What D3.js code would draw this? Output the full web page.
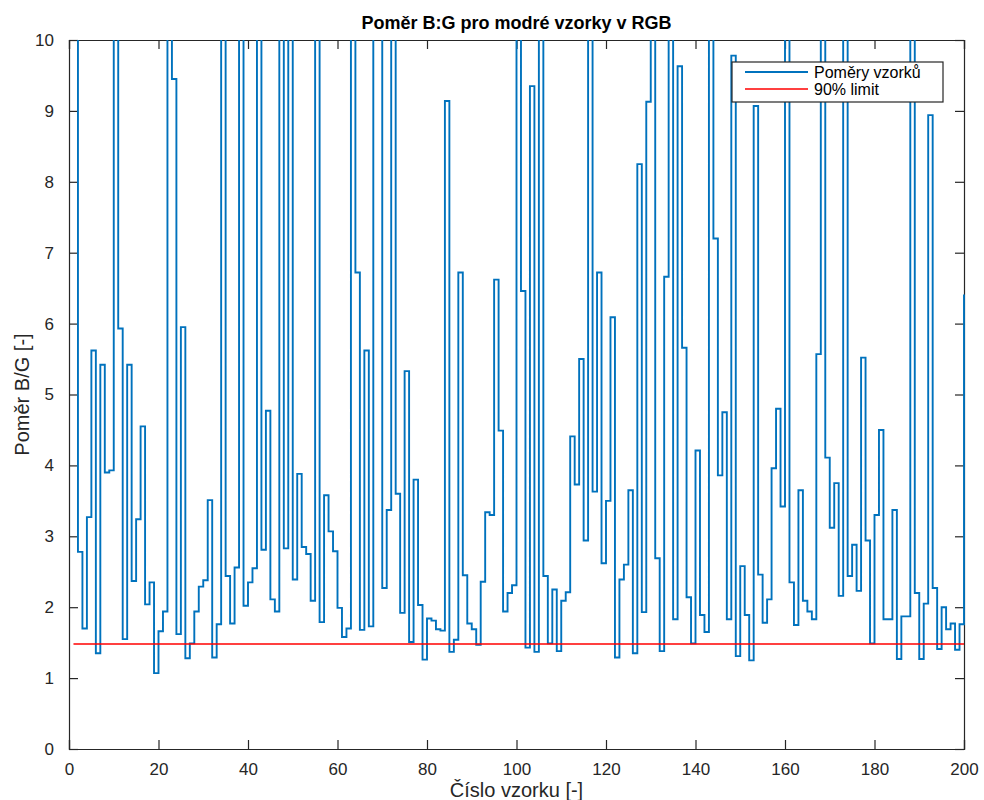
<!DOCTYPE html>
<html>
<head>
<meta charset="utf-8">
<script src="https://cdn.jsdelivr.net/npm/d3@7"></script>
<style>
  html, body { margin: 0; padding: 0; background: #fff; }
  svg { display: block; }
  text { font-family: "Liberation Sans", Arial, Helvetica, sans-serif; }
</style>
</head>
<body>
<svg id="chart" width="984" height="800"></svg>
<script>
// B:G ratio for each sample (values above 10 run off the top of the axes)
const sampleRatios = [
  12, 2.78, 1.70, 3.27, 5.62, 1.35, 5.42, 3.90, 3.93, 12,
  5.93, 1.55, 5.42, 2.37, 3.24, 4.55, 2.04, 2.35, 1.07, 1.66,
  1.94, 12, 9.45, 1.62, 5.95, 1.28, 1.49, 1.94, 2.29, 2.38,
  3.51, 1.29, 1.76, 12, 2.44, 1.77, 2.56, 12, 2.02, 2.35,
  2.55, 12, 2.81, 4.77, 2.11, 1.94, 12, 2.83, 12, 2.39,
  3.88, 2.85, 2.75, 2.09, 12, 1.79, 3.58, 3.07, 2.79, 1.99,
  1.58, 1.70, 12, 6.72, 1.68, 5.62, 1.73, 12, 12, 2.27,
  3.37, 12, 3.60, 1.92, 5.33, 1.51, 3.80, 2.03, 1.26, 1.84,
  1.81, 1.69, 1.67, 9.14, 1.37, 1.54, 6.72, 2.45, 1.77, 1.69,
  1.47, 2.36, 3.34, 3.30, 6.62, 4.49, 1.94, 2.20, 2.31, 12,
  6.46, 1.43, 9.35, 1.37, 12, 2.44, 1.49, 2.25, 1.38, 2.09,
  2.21, 4.41, 3.73, 5.50, 2.94, 12, 3.63, 6.72, 2.62, 3.50,
  6.09, 1.29, 2.39, 2.60, 3.65, 1.35, 8.25, 1.93, 9.13, 12,
  2.69, 1.38, 6.66, 12, 1.83, 9.63, 5.66, 2.14, 1.49, 4.21,
  1.89, 1.65, 12, 7.20, 3.86, 4.75, 1.83, 9.78, 1.31, 2.58,
  1.89, 1.25, 9.07, 2.46, 1.78, 2.11, 3.96, 4.80, 3.42, 12,
  2.35, 1.75, 3.65, 2.09, 1.94, 1.83, 5.57, 12, 4.11, 3.12,
  3.75, 2.16, 12, 2.44, 2.88, 2.23, 5.52, 2.94, 1.49, 3.30,
  4.50, 1.83, 1.83, 3.37, 1.27, 1.87, 1.87, 12, 2.20, 1.27,
  2.05, 8.94, 2.27, 1.41, 2.00, 1.69, 1.77, 1.40, 1.76, 6.41
];
const sampleIndex = sampleRatios.map((_, i) => i + 1);

// 90 % limit of the ratio
const limitValue = 1.48;

const xTicks = [0, 20, 40, 60, 80, 100, 120, 140, 160, 180, 200];
const yTicks = [0, 1, 2, 3, 4, 5, 6, 7, 8, 9, 10];

const titleText = "Poměr B:G pro modré vzorky v RGB";
const xLabelText = "Číslo vzorku [-]";
const yLabelText = "Poměr B/G [-]";
const legendLabels = ["Poměry vzorků", "90% limit"];

const margin = { left: 69, right: 20, top: 40, bottom: 51 };
const W = 984, H = 800;
const innerW = W - margin.left - margin.right;
const innerH = H - margin.top - margin.bottom;

const axisColor = "#262626";
const blue = "#0072BD";
const red = "#FF0000";

const svg = d3.select("#chart");
const g = svg.append("g").attr("transform", `translate(${margin.left},${margin.top})`);

const x = d3.scaleLinear().domain([0, 200]).range([0, innerW]);
const y = d3.scaleLinear().domain([0, 10]).range([innerH, 0]);

// clip to the axes box (a little slack at the sides so edge lines stay whole)
g.append("defs").append("clipPath").attr("id", "plotClip")
  .append("rect").attr("x", -2).attr("y", 0).attr("width", innerW + 4).attr("height", innerH);

// axes with inward ticks on all four sides
const tickLen = 9;
const fontSize = 17;

const xAxisB = d3.axisBottom(x).tickValues(xTicks).tickSize(-tickLen).tickPadding(tickLen + 5).tickFormat(d3.format("d"));
const xAxisT = d3.axisTop(x).tickValues(xTicks).tickSize(-tickLen).tickFormat("");
const yAxisL = d3.axisLeft(y).tickValues(yTicks).tickSize(-tickLen).tickPadding(tickLen + 6).tickFormat(d3.format("d"));
const yAxisR = d3.axisRight(y).tickValues(yTicks).tickSize(-tickLen).tickFormat("");

function styleAxis(sel) {
  sel.select(".domain").attr("stroke", axisColor).attr("stroke-width", 1.2);
  sel.selectAll(".tick line").attr("stroke", axisColor).attr("stroke-width", 1.2);
  sel.selectAll(".tick text")
    .attr("fill", axisColor)
    .style("font-size", fontSize + "px")
    .style("font-family", '"Liberation Sans", Arial, sans-serif');
}

g.append("g").attr("transform", `translate(0,${innerH})`).call(xAxisB).call(styleAxis);
g.append("g").call(xAxisT).call(styleAxis);
g.append("g").call(yAxisL).call(styleAxis);
g.append("g").attr("transform", `translate(${innerW},0)`).call(yAxisR).call(styleAxis);

// stairs series, drawn over the axes box
const stairs = d3.line()
  .x((d, i) => x(sampleIndex[i]))
  .y(d => y(d))
  .curve(d3.curveStepAfter);

const plot = g.append("g").attr("clip-path", "url(#plotClip)");

plot.append("path")
  .datum(sampleRatios)
  .attr("fill", "none")
  .attr("stroke", blue)
  .attr("stroke-width", 1.9)
  .attr("d", stairs);

// limit line
plot.append("line")
  .attr("x1", x(sampleIndex[0]))
  .attr("x2", x(sampleIndex[sampleIndex.length - 1]))
  .attr("y1", y(limitValue))
  .attr("y2", y(limitValue))
  .attr("stroke", red)
  .attr("stroke-width", 1.6);

// title and axis labels
svg.append("text")
  .attr("x", margin.left + innerW / 2)
  .attr("y", 29)
  .attr("text-anchor", "middle")
  .attr("fill", "#000")
  .style("font-size", "18px")
  .style("font-weight", "bold")
  .text(titleText);

svg.append("text")
  .attr("x", margin.left + innerW / 2)
  .attr("y", 797)
  .attr("text-anchor", "middle")
  .attr("fill", axisColor)
  .style("font-size", "20px")
  .text(xLabelText);

svg.append("text")
  .attr("transform", `translate(29,${margin.top + innerH / 2}) rotate(-90)`)
  .attr("text-anchor", "middle")
  .attr("fill", axisColor)
  .style("font-size", "20px")
  .text(yLabelText);

// legend
const legend = svg.append("g").attr("transform", "translate(732,62)");
legend.append("rect")
  .attr("width", 211).attr("height", 40)
  .attr("fill", "#fff").attr("stroke", axisColor).attr("stroke-width", 1.2);

const legendColors = [blue, red];
legendLabels.forEach((label, i) => {
  const ly = 10 + i * 17;
  legend.append("line")
    .attr("x1", 13).attr("x2", 76).attr("y1", ly).attr("y2", ly)
    .attr("stroke", legendColors[i]).attr("stroke-width", i === 0 ? 1.9 : 1.6);
  legend.append("text")
    .attr("x", 82).attr("y", ly + 5.5)
    .attr("fill", "#000")
    .style("font-size", "16px")
    .text(label);
});
</script>
</body>
</html>
